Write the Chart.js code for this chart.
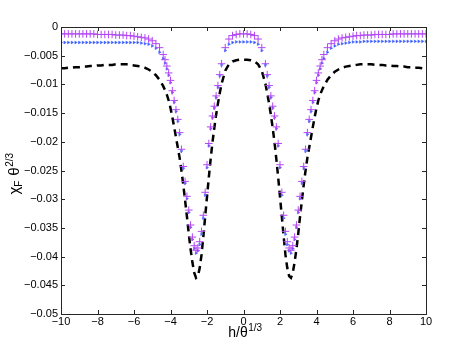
<!DOCTYPE html>
<html>
<head>
<meta charset="utf-8">
<script src="https://cdn.jsdelivr.net/npm/chart.js@4"></script>
<style>
  html, body { margin: 0; padding: 0; background: #fff; }
  canvas { display: block; }
</style>
</head>
<body>
<canvas id="chi" width="471" height="354"></canvas>
<script>
// grid of h/theta^(1/3) values (finer around the two dips)
const hVals = [
  -10, -9.8, -9.6, -9.4, -9.2, -9, -8.8, -8.6, -8.4, -8.2,
  -8, -7.8, -7.6, -7.4, -7.2, -7, -6.8, -6.6, -6.4, -6.2,
  -6, -5.8, -5.6, -5.4, -5.2, -5, -4.8, -4.6, -4.4,
  -4.3, -4.2, -4.1, -4, -3.9, -3.8, -3.7, -3.6, -3.5, -3.4,
  -3.3, -3.2, -3.1, -3, -2.9, -2.8, -2.7, -2.6, -2.5, -2.4,
  -2.3, -2.2, -2.1, -2, -1.9, -1.8, -1.7, -1.6, -1.5, -1.4, -1.3,
  -1.2, -1, -0.8, -0.6, -0.4, -0.2, 0, 0.2, 0.4, 0.6, 0.8, 1, 1.2,
  1.3, 1.4, 1.5, 1.6, 1.7, 1.8, 1.9, 2, 2.1, 2.2, 2.3,
  2.4, 2.5, 2.6, 2.7, 2.8, 2.9, 3, 3.1, 3.2, 3.3,
  3.4, 3.5, 3.6, 3.7, 3.8, 3.9, 4, 4.1, 4.2, 4.3,
  4.4, 4.6, 4.8, 5, 5.2, 5.4, 5.6, 5.8, 6,
  6.2, 6.4, 6.6, 6.8, 7, 7.2, 7.4, 7.6, 7.8, 8,
  8.2, 8.4, 8.6, 8.8, 9, 9.2, 9.4, 9.6, 9.8, 10
];

// magenta "+" series
const chiPlus = [
  -0.0012, -0.0012, -0.0012, -0.0012, -0.0012, -0.0012, -0.0012, -0.0012, -0.0012, -0.0012,
  -0.0013, -0.0013, -0.0013, -0.0013, -0.0013, -0.0014, -0.0014, -0.0014, -0.0015, -0.0015,
  -0.0016, -0.0017, -0.0018, -0.0019, -0.0021, -0.0024, -0.0029, -0.0036, -0.0048,
  -0.0057, -0.0068, -0.0080, -0.0093, -0.0111, -0.0128, -0.0144, -0.0161, -0.0184, -0.0213,
  -0.0243, -0.0269, -0.0295, -0.0319, -0.0345, -0.0366, -0.0381, -0.0389, -0.0385, -0.0374,
  -0.0356, -0.0328, -0.0288, -0.0240, -0.0203, -0.0174, -0.0155, -0.0138, -0.0120, -0.0102, -0.0083,
  -0.0064, -0.0036, -0.0021, -0.0015, -0.0013, -0.0012, -0.0012, -0.0012, -0.0013, -0.0015, -0.0021, -0.0036, -0.0064,
  -0.0083, -0.0102, -0.0120, -0.0138, -0.0155, -0.0174, -0.0203, -0.0240, -0.0288, -0.0328, -0.0356,
  -0.0374, -0.0385, -0.0389, -0.0381, -0.0366, -0.0345, -0.0319, -0.0295, -0.0269, -0.0243,
  -0.0213, -0.0184, -0.0161, -0.0144, -0.0128, -0.0111, -0.0093, -0.0080, -0.0068, -0.0057,
  -0.0048, -0.0036, -0.0029, -0.0024, -0.0021, -0.0019, -0.0018, -0.0017, -0.0016,
  -0.0015, -0.0015, -0.0014, -0.0014, -0.0014, -0.0013, -0.0013, -0.0013, -0.0013, -0.0013,
  -0.0012, -0.0012, -0.0012, -0.0012, -0.0012, -0.0012, -0.0012, -0.0012, -0.0012, -0.0012
];

// blue triangle series
const chiTri = [
  -0.0027, -0.0027, -0.0027, -0.0027, -0.0027, -0.0027, -0.0027, -0.0027, -0.0027, -0.0027,
  -0.0027, -0.0027, -0.0027, -0.0027, -0.0027, -0.0027, -0.0027, -0.0027, -0.0027, -0.0027,
  -0.0027, -0.0027, -0.0028, -0.0029, -0.0030, -0.0033, -0.0037, -0.0044, -0.0055,
  -0.0063, -0.0073, -0.0084, -0.0097, -0.0114, -0.0131, -0.0147, -0.0164, -0.0187, -0.0216,
  -0.0246, -0.0272, -0.0299, -0.0323, -0.0349, -0.0370, -0.0386, -0.0394, -0.0390, -0.0379,
  -0.0361, -0.0333, -0.0293, -0.0245, -0.0207, -0.0177, -0.0158, -0.0141, -0.0123, -0.0105, -0.0085,
  -0.0066, -0.0041, -0.0030, -0.0027, -0.0026, -0.0026, -0.0026, -0.0026, -0.0026, -0.0027, -0.0030, -0.0041, -0.0066,
  -0.0085, -0.0105, -0.0123, -0.0141, -0.0158, -0.0177, -0.0207, -0.0245, -0.0293, -0.0333, -0.0361,
  -0.0379, -0.0390, -0.0394, -0.0386, -0.0370, -0.0349, -0.0323, -0.0299, -0.0272, -0.0246,
  -0.0216, -0.0187, -0.0164, -0.0147, -0.0131, -0.0114, -0.0097, -0.0084, -0.0073, -0.0063,
  -0.0055, -0.0044, -0.0037, -0.0033, -0.0030, -0.0029, -0.0028, -0.0027, -0.0026,
  -0.0026, -0.0026, -0.0025, -0.0025, -0.0025, -0.0025, -0.0025, -0.0025, -0.0025, -0.0025,
  -0.0025, -0.0025, -0.0025, -0.0025, -0.0025, -0.0025, -0.0025, -0.0025, -0.0025, -0.0025
];

// black dashed curve
const chiDash = [
  -0.0072, -0.0072, -0.0071, -0.0071, -0.0070, -0.0070, -0.0069, -0.0069, -0.0068, -0.0068,
  -0.0067, -0.0067, -0.0066, -0.0066, -0.0066, -0.0065, -0.0065, -0.0065, -0.0065, -0.0066,
  -0.0067, -0.0068, -0.0069, -0.0071, -0.0074, -0.0078, -0.0084, -0.0092, -0.0103,
  -0.0110, -0.0118, -0.0128, -0.0141, -0.0157, -0.0174, -0.0192, -0.0210, -0.0228, -0.0250,
  -0.0275, -0.0302, -0.0330, -0.0360, -0.0387, -0.0410, -0.0428, -0.0437, -0.0434, -0.0420,
  -0.0397, -0.0365, -0.0330, -0.0296, -0.0262, -0.0230, -0.0201, -0.0176, -0.0153, -0.0133, -0.0115,
  -0.0099, -0.0076, -0.0065, -0.0060, -0.0058, -0.0057, -0.0057, -0.0057, -0.0058, -0.0060, -0.0065, -0.0076, -0.0099,
  -0.0115, -0.0133, -0.0153, -0.0176, -0.0201, -0.0230, -0.0262, -0.0296, -0.0330, -0.0365, -0.0397,
  -0.0420, -0.0434, -0.0437, -0.0428, -0.0410, -0.0387, -0.0360, -0.0330, -0.0302, -0.0275,
  -0.0250, -0.0228, -0.0210, -0.0192, -0.0174, -0.0157, -0.0141, -0.0128, -0.0118, -0.0110,
  -0.0103, -0.0092, -0.0084, -0.0078, -0.0074, -0.0071, -0.0069, -0.0068, -0.0067,
  -0.0066, -0.0065, -0.0065, -0.0065, -0.0065, -0.0066, -0.0066, -0.0066, -0.0067, -0.0067,
  -0.0068, -0.0068, -0.0069, -0.0069, -0.0070, -0.0070, -0.0071, -0.0071, -0.0072, -0.0072
];

const FONT = '"Liberation Sans", Arial, Helvetica, sans-serif';

const pts = ys => hVals.map((h, i) => ({ x: h, y: ys[i] }));
const minus = v => String(v).replace('-', '\u2212');

// matlab-like box, inward ticks and axis labels with sub/superscripts
const matlabFrame = {
  id: 'matlabFrame',
  afterDraw(chart) {
    const { ctx, chartArea: a, scales: { x, y } } = chart;
    ctx.save();
    ctx.strokeStyle = '#262626';
    ctx.lineWidth = 1;
    ctx.strokeRect(a.left + 0.5, a.top + 0.5, a.right - a.left, a.bottom - a.top);
    ctx.beginPath();
    x.ticks.forEach(t => {
      const px = Math.round(x.getPixelForValue(t.value)) + 0.5;
      ctx.moveTo(px, a.bottom); ctx.lineTo(px, a.bottom - 4);
      ctx.moveTo(px, a.top); ctx.lineTo(px, a.top + 4);
    });
    y.ticks.forEach(t => {
      const py = Math.round(y.getPixelForValue(t.value)) + 0.5;
      ctx.moveTo(a.left, py); ctx.lineTo(a.left + 4, py);
      ctx.moveTo(a.right, py); ctx.lineTo(a.right - 4, py);
    });
    ctx.stroke();

    // y tick labels, right aligned against the axis
    ctx.fillStyle = '#000';
    ctx.font = '11px ' + FONT;
    ctx.textAlign = 'right';
    ctx.textBaseline = 'middle';
    y.ticks.forEach(t => {
      ctx.fillText(minus(Math.round(t.value * 1000) / 1000), a.left - 3, y.getPixelForValue(t.value));
    });

    ctx.textBaseline = 'alphabetic';
    ctx.textAlign = 'left';
    // x title: h/θ^(1/3)
    ctx.font = '14px ' + FONT;
    const w1 = ctx.measureText('h/\u03b8').width;
    ctx.font = '10px ' + FONT;
    const w2 = ctx.measureText('1/3').width;
    let sx = 245 - (w1 + w2) / 2;
    ctx.font = '14px ' + FONT;
    ctx.fillText('h/\u03b8', sx, 337);
    ctx.font = '10px ' + FONT;
    ctx.fillText('1/3', sx + w1 + 0.5, 331);

    // y title: χ_F θ^(2/3)
    ctx.translate(19, 174);
    ctx.rotate(-Math.PI / 2);
    ctx.font = '15px ' + FONT;
    const a1 = ctx.measureText('\u03c7').width;
    const a3 = ctx.measureText('\u03b8').width;
    ctx.font = '10px ' + FONT;
    const a2 = ctx.measureText('F').width;
    const a4 = ctx.measureText('2/3').width;
    const gap = 5;
    let tx = -(a1 + a2 + gap + a3 + a4) / 2;
    ctx.font = '15px ' + FONT;
    ctx.fillText('\u03c7', tx, 0);
    tx += a1;
    ctx.font = '10px ' + FONT;
    ctx.fillText('F', tx, 3);
    tx += a2 + gap;
    ctx.font = '15px ' + FONT;
    ctx.fillText('\u03b8', tx, 0);
    tx += a3;
    ctx.font = '10px ' + FONT;
    ctx.fillText('2/3', tx + 0.5, -6);
    ctx.restore();
  }
};

new Chart(document.getElementById('chi'), {
  type: 'scatter',
  data: {
    datasets: [
      {
        label: 'plus',
        data: pts(chiPlus),
        pointStyle: 'cross',
        pointRadius: 3.8,
        pointBorderWidth: 1,
        borderColor: '#b347f5',
        backgroundColor: '#b347f5',
        showLine: false,
        order: 0
      },
      {
        label: 'triangle',
        data: pts(chiTri),
        pointStyle: 'triangle',
        pointRotation: 90,
        pointRadius: 1.6,
        pointBorderWidth: 0.5,
        borderColor: '#3a5cff',
        backgroundColor: '#3a5cff',
        showLine: false,
        order: 1
      },
      {
        label: 'dashed',
        data: pts(chiDash),
        showLine: true,
        pointRadius: 0,
        borderColor: '#000',
        borderWidth: 2.5,
        borderDash: [7, 5],
        tension: 0,
        order: 2
      }
    ]
  },
  options: {
    responsive: false,
    animation: false,
    devicePixelRatio: 1,
    layout: { padding: { left: 0, top: 27, right: 45, bottom: 0 } },
    plugins: { legend: { display: false }, tooltip: { enabled: false } },
    scales: {
      x: {
        type: 'linear',
        min: -10,
        max: 10,
        grid: { display: false, drawTicks: false },
        border: { display: false },
        ticks: {
          stepSize: 2,
          autoSkip: false,
          maxRotation: 0,
          padding: 1,
          color: '#000',
          font: { family: FONT, size: 11 },
          callback: v => minus(v)
        },
        afterFit: s => { s.height = 40; }
      },
      y: {
        type: 'linear',
        min: -0.05,
        max: 0,
        grid: { display: false, drawTicks: false },
        border: { display: false },
        ticks: {
          stepSize: 0.005,
          autoSkip: false,
          color: 'rgba(0,0,0,0)',
          font: { family: FONT, size: 11 }
        },
        afterFit: s => { s.width = 61; }
      }
    }
  },
  plugins: [matlabFrame]
});
</script>
</body>
</html>
